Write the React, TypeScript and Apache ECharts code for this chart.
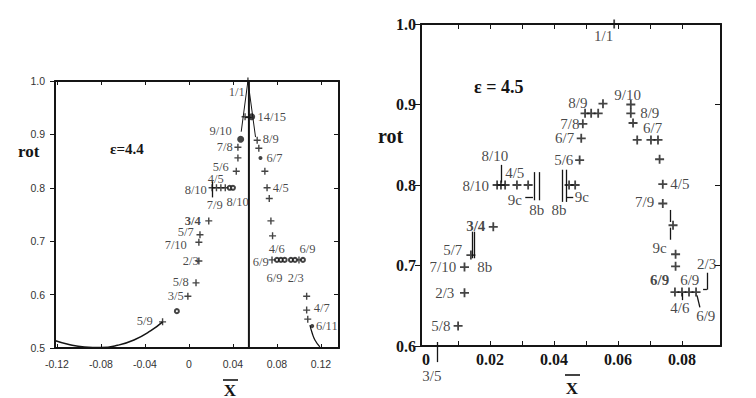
import React, { useEffect, useRef } from "react";
import * as echarts from "echarts";

// ---------- axes ----------
const L_X_TICKS = [-0.12, -0.08, -0.04, 0, 0.04, 0.08, 0.12];
const L_Y_TICKS = [0.5, 0.6, 0.7, 0.8, 0.9, 1.0];
const R_X_TICKS = [0, 0.02, 0.04, 0.06, 0.08];
const R_X_MINOR = [0.01, 0.02, 0.03, 0.04, 0.05, 0.06, 0.07, 0.08];
const R_Y_TICKS = [0.6, 0.7, 0.8, 0.9, 1.0];

// ---------- left panel (eps = 4.4) ----------
const L_PLUS = [
  [0.0536, 1.0], [0.051, 0.933], [0.0445, 0.876], [0.0445, 0.856], [0.043, 0.831],
  [0.021, 0.8], [0.025, 0.8], [0.029, 0.8], [0.033, 0.8],
  [0.018, 0.738], [0.01, 0.712], [0.009, 0.698], [0.009, 0.663], [0.0064, 0.622],
  [-0.001, 0.597], [-0.024, 0.549],
  [0.062, 0.889], [0.0635, 0.874], [0.069, 0.831], [0.071, 0.8], [0.073, 0.78],
  [0.0745, 0.738], [0.076, 0.71],
  [0.0755, 0.665], [0.1, 0.665],
  [0.107, 0.597], [0.107, 0.571], [0.108, 0.554],
];
const L_BIG_DOTS = [[0.047, 0.891], [0.057, 0.933]];
const L_SMALL_DOTS = [[0.065, 0.856], [0.112, 0.541]];
const L_RINGS = [
  [-0.011, 0.569],
  [0.08, 0.665], [0.0836, 0.665], [0.087, 0.665], [0.0927, 0.665], [0.0964, 0.665], [0.1036, 0.665],
  [0.037, 0.8], [0.04, 0.8],
];
const L_VLINE = [[0.0545, 0.5], [0.0545, 1.0]];
const L_CUSP_LEFT = [[0.0536, 1.0], [0.0475, 0.905]];
const L_CUSP_RIGHT = [[0.0536, 1.0], [0.0605, 0.895]];
const L_CURVE_LEFT = [
  [-0.024, 0.549], [-0.035, 0.532], [-0.05, 0.515], [-0.065, 0.505],
  [-0.08, 0.501], [-0.095, 0.502], [-0.11, 0.507], [-0.122, 0.514],
];
const L_CURVE_RIGHT = [[0.11, 0.543], [0.112, 0.528], [0.1145, 0.515], [0.119, 0.502]];
const L_BARS = [
  [[0.021, 0.812], [0.021, 0.782]],
  [[0.051, 0.933], [0.057, 0.933]],
];
// [x, y, text, bold]
const L_LABELS: [number, number, string, boolean][] = [
  [0.0436, 0.979, "1/1", false],
  [0.0755, 0.933, "14/15", false],
  [0.0291, 0.906, "9/10", false],
  [0.0327, 0.876, "7/8", false],
  [0.0291, 0.839, "5/6", false],
  [0.0245, 0.816, "4/5", false],
  [0.0064, 0.796, "8/10", false],
  [0.0236, 0.768, "7/9", false],
  [0.0445, 0.773, "8/10", false],
  [0.0745, 0.89, "8/9", false],
  [0.078, 0.856, "6/7", false],
  [0.0836, 0.8, "4/5", false],
  [0.0036, 0.738, "3/4", true],
  [-0.0027, 0.716, "5/7", false],
  [-0.0118, 0.693, "7/10", false],
  [0.0018, 0.663, "2/3", false],
  [-0.0073, 0.624, "5/8", false],
  [-0.0118, 0.597, "3/5", false],
  [-0.04, 0.551, "5/9", false],
  [0.08, 0.685, "4/6", false],
  [0.108, 0.685, "6/9", false],
  [0.0655, 0.661, "6/9", false],
  [0.078, 0.631, "6/9", false],
  [0.0973, 0.631, "2/3", false],
  [0.121, 0.575, "4/7", false],
  [0.1255, 0.541, "6/11", false],
];

// ---------- right panel (eps = 4.5) ----------
const R_PLUS = [
  [0.0588, 1.0], [0.0553, 0.901],
  [0.0497, 0.889], [0.0516, 0.889], [0.0538, 0.889],
  [0.049, 0.876], [0.0485, 0.858], [0.048, 0.831],
  [0.064, 0.9], [0.064, 0.889], [0.0647, 0.877],
  [0.066, 0.856], [0.0703, 0.856], [0.0725, 0.856],
  [0.073, 0.832], [0.074, 0.801], [0.074, 0.777], [0.0772, 0.75],
  [0.078, 0.714], [0.078, 0.699],
  [0.0778, 0.667], [0.08, 0.667], [0.0822, 0.667], [0.0844, 0.667],
  [0.0222, 0.8], [0.0234, 0.8], [0.0247, 0.8], [0.0284, 0.8], [0.0319, 0.8],
  [0.0447, 0.8], [0.0466, 0.8],
  [0.021, 0.748], [0.014, 0.713], [0.012, 0.698], [0.012, 0.666], [0.01, 0.625],
];
const R_BARS = [
  [[0.0234, 0.825], [0.0234, 0.803]],
  [[0.0338, 0.816], [0.0338, 0.781]],
  [[0.0353, 0.816], [0.0353, 0.781]],
  [[0.031, 0.785], [0.0334, 0.785]],
  [[0.0425, 0.819], [0.0425, 0.779]],
  [[0.0438, 0.819], [0.0438, 0.779]],
  [[0.0438, 0.785], [0.046, 0.785]],
  [[0.0144, 0.742], [0.0144, 0.709]],
  [[0.015, 0.742], [0.015, 0.709]],
  [[0.0034, 0.605], [0.0034, 0.58]],
  [[0.0763, 0.769], [0.0763, 0.754]],
  [[0.0763, 0.747], [0.0763, 0.732]],
  [[0.0878, 0.691], [0.0878, 0.67]],
  [[0.0866, 0.67], [0.0878, 0.67]],
  [[0.08, 0.666], [0.08, 0.657]],
  [[0.0847, 0.663], [0.0856, 0.648]],
];
const R_LABELS: [number, number, string, boolean][] = [
  [0.0556, 0.985, "1/1", false],
  [0.0631, 0.912, "9/10", false],
  [0.07, 0.889, "8/9", false],
  [0.0709, 0.871, "6/7", false],
  [0.0794, 0.801, "4/5", false],
  [0.0684, 0.778, "7/9", false],
  [0.0731, 0.722, "9c", false],
  [0.0878, 0.702, "2/3", false],
  [0.0731, 0.682, "6/9", true],
  [0.0825, 0.682, "6/9", false],
  [0.0794, 0.647, "4/6", false],
  [0.0875, 0.637, "6/9", false],
  [0.0475, 0.902, "8/9", false],
  [0.045, 0.876, "7/8", false],
  [0.0434, 0.858, "6/7", false],
  [0.0431, 0.831, "5/6", false],
  [0.0216, 0.836, "8/10", false],
  [0.0278, 0.815, "4/5", false],
  [0.0156, 0.798, "8/10", false],
  [0.0278, 0.781, "9c", false],
  [0.0347, 0.769, "8b", false],
  [0.0416, 0.769, "8b", false],
  [0.0488, 0.785, "9c", false],
  [0.0156, 0.749, "3/4", true],
  [0.0084, 0.719, "5/7", false],
  [0.0184, 0.698, "8b", false],
  [0.0053, 0.698, "7/10", false],
  [0.0059, 0.666, "2/3", false],
  [0.0047, 0.625, "5/8", false],
  [0.0019, 0.562, "3/5", false],
];

const INK = "#151515";
const SERIF = "'Liberation Serif', 'DejaVu Serif', serif";
const SANS = "'Liberation Sans', Arial, sans-serif";
const PLUS = "path://M4,0H6V4H10V6H6V10H4V6H0V4H4Z";

function labelSeries(labels: [number, number, string, boolean][], xi: number, yi: number, size: number) {
  const base = {
    show: true,
    position: [0, 0],
    align: "center",
    verticalAlign: "middle",
    formatter: "{b}",
    fontFamily: SERIF,
    fontSize: size,
    color: INK,
    textBorderWidth: 0,
  };
  return {
    type: "scatter",
    xAxisIndex: xi,
    yAxisIndex: yi,
    clip: false,
    colorBy: "series",
    symbol: "circle",
    symbolSize: 0.5,
    itemStyle: { color: "rgba(255,255,255,0)" },
    silent: true,
    z: 5,
    data: labels.map(([x, y, t, b]) => ({
      value: [x, y],
      name: t,
      label: { ...base, fontWeight: b ? "bold" : "normal" },
    })),
    label: base,
  };
}

function lineSeries(data: number[][], xi: number, yi: number, width: number, smooth = false) {
  return {
    type: "line",
    xAxisIndex: xi,
    yAxisIndex: yi,
    data,
    smooth,
    symbol: "none",
    lineStyle: { color: INK, width },
    silent: true,
  };
}

function barsSeries(segs: number[][][], xi: number, yi: number) {
  return {
    type: "lines",
    coordinateSystem: "cartesian2d",
    xAxisIndex: xi,
    yAxisIndex: yi,
    clip: false,
    silent: true,
    lineStyle: { color: INK, width: 1.3, opacity: 1 },
    data: segs.map((s) => ({ coords: s })),
  };
}

function fmt2(v: number) {
  if (Math.abs(v) < 1e-9) return "0";
  return v.toFixed(2);
}

export default function App() {
  const ref = useRef<HTMLDivElement>(null);
  useEffect(() => {
    if (!ref.current) return;
    const chart = echarts.init(ref.current, undefined, { renderer: "svg" });
    const lMin = -0.1218, lMax = 0.1364;
    const rMin = -0.0016, rMax = 0.0922;
    const axisLine = { show: true, onZero: false, lineStyle: { color: INK, width: 2 } };
    const option: any = {
      animation: false,
      backgroundColor: "#ffffff",
      grid: [
        { left: 55, right: 417, top: 81, bottom: 50 },
        { left: 421, right: 35, top: 24, bottom: 52 },
      ],
      xAxis: [
        {
          type: "value", gridIndex: 0, min: lMin, max: lMax, position: "bottom",
          axisLine, splitLine: { show: false },
          axisTick: { show: true, inside: true, length: 4, customValues: L_X_TICKS, lineStyle: { color: INK } },
          axisLabel: { customValues: L_X_TICKS, formatter: fmt2, fontFamily: SANS, fontSize: 10.5, color: "#333", margin: 10 },
        },
        {
          type: "value", gridIndex: 0, min: lMin, max: lMax, position: "top",
          axisLine, splitLine: { show: false },
          axisTick: { show: true, inside: true, length: 4, customValues: L_X_TICKS, lineStyle: { color: INK } },
          axisLabel: { show: false },
        },
        {
          type: "value", gridIndex: 1, min: rMin, max: rMax, position: "bottom",
          axisLine, splitLine: { show: false },
          axisTick: { show: true, inside: true, length: 5, customValues: R_X_MINOR, lineStyle: { color: INK } },
          axisLabel: { customValues: R_X_TICKS, formatter: fmt2, fontFamily: SERIF, fontWeight: "bold", fontSize: 16, color: INK, margin: 5 },
        },
        {
          type: "value", gridIndex: 1, min: rMin, max: rMax, position: "top",
          axisLine, splitLine: { show: false },
          axisTick: { show: true, inside: true, length: 5, customValues: R_X_MINOR, lineStyle: { color: INK } },
          axisLabel: { show: false },
        },
      ],
      yAxis: [
        {
          type: "value", gridIndex: 0, min: 0.5, max: 1.0, position: "left",
          axisLine, splitLine: { show: false },
          axisTick: { show: true, inside: false, length: 5, customValues: L_Y_TICKS, lineStyle: { color: INK } },
          axisLabel: { customValues: L_Y_TICKS, formatter: (v: number) => v.toFixed(1), fontFamily: SANS, fontSize: 10.5, color: "#333", margin: 10 },
        },
        {
          type: "value", gridIndex: 0, min: 0.5, max: 1.0, position: "right",
          axisLine, splitLine: { show: false },
          axisTick: { show: true, inside: true, length: 5, customValues: L_Y_TICKS, lineStyle: { color: INK } },
          axisLabel: { show: false },
        },
        {
          type: "value", gridIndex: 1, min: 0.6, max: 1.0, position: "left",
          axisLine, splitLine: { show: false },
          axisTick: { show: true, inside: false, length: 6, customValues: R_Y_TICKS, lineStyle: { color: INK } },
          axisLabel: { customValues: R_Y_TICKS, formatter: (v: number) => v.toFixed(1), fontFamily: SERIF, fontWeight: "bold", fontSize: 16, color: INK, margin: 5 },
        },
        {
          type: "value", gridIndex: 1, min: 0.6, max: 1.0, position: "right",
          axisLine, splitLine: { show: false },
          axisTick: { show: true, inside: true, length: 6, customValues: R_Y_TICKS, lineStyle: { color: INK } },
          axisLabel: { show: false },
        },
      ],
      series: [
        // left panel
        lineSeries(L_VLINE, 0, 0, 2),
        lineSeries(L_CUSP_LEFT, 0, 0, 1),
        lineSeries(L_CUSP_RIGHT, 0, 0, 1),
        lineSeries(L_CURVE_LEFT, 0, 0, 1.5, true),
        lineSeries(L_CURVE_RIGHT, 0, 0, 1.3, true),
        barsSeries(L_BARS, 0, 0),
        {
          type: "scatter", xAxisIndex: 0, yAxisIndex: 0, symbol: PLUS, symbolSize: 7,
          itemStyle: { color: INK }, data: L_PLUS, silent: true, z: 4,
        },
        {
          type: "scatter", xAxisIndex: 0, yAxisIndex: 0, symbol: "circle", symbolSize: 7,
          itemStyle: { color: INK }, data: L_BIG_DOTS, silent: true, z: 4,
        },
        {
          type: "scatter", xAxisIndex: 0, yAxisIndex: 0, symbol: "circle", symbolSize: 4,
          itemStyle: { color: INK }, data: L_SMALL_DOTS, silent: true, z: 4,
        },
        {
          type: "scatter", xAxisIndex: 0, yAxisIndex: 0, symbol: "emptyCircle", symbolSize: 4,
          itemStyle: { color: INK, borderColor: INK, borderWidth: 1 }, data: L_RINGS, silent: true, z: 4,
        },
        labelSeries(L_LABELS, 0, 0, 12.5),
        // right panel
        barsSeries(R_BARS, 2, 2),
        {
          type: "scatter", xAxisIndex: 2, yAxisIndex: 2, symbol: PLUS, symbolSize: 9,
          itemStyle: { color: INK }, data: R_PLUS, silent: true, z: 4,
        },
        labelSeries(R_LABELS, 2, 2, 15),
      ],
      graphic: [
        { type: "text", left: 18, top: 143, style: { text: "rot", font: `bold 17px ${SERIF}`, fill: INK } },
        { type: "text", left: 378, top: 126, style: { text: "rot", font: `bold 20px ${SERIF}`, fill: INK } },
        { type: "text", left: 110, top: 141, style: { text: "ε=4.4", font: `bold 15px ${SERIF}`, fill: INK } },
        { type: "text", left: 474, top: 78, style: { text: "ε = 4.5", font: `bold 18px ${SERIF}`, fill: INK } },
        { type: "text", x: 230, y: 390, style: { text: "X", font: `bold 17px ${SERIF}`, fill: INK, align: "center", verticalAlign: "middle" } },
        { type: "line", shape: { x1: 223, y1: 380, x2: 238, y2: 380 }, style: { stroke: INK, lineWidth: 1.6 } },
        { type: "text", x: 572, y: 388, style: { text: "X", font: `bold 17px ${SERIF}`, fill: INK, align: "center", verticalAlign: "middle" } },
        { type: "line", shape: { x1: 565, y1: 375, x2: 580, y2: 375 }, style: { stroke: INK, lineWidth: 1.6 } },
      ],
    };
    chart.setOption(option);
    return () => chart.dispose();
  }, []);
  return (
    <div
      ref={ref}
      style={{ position: "fixed", left: 0, top: 0, width: 756, height: 398, background: "#fff" }}
    />
  );
}
